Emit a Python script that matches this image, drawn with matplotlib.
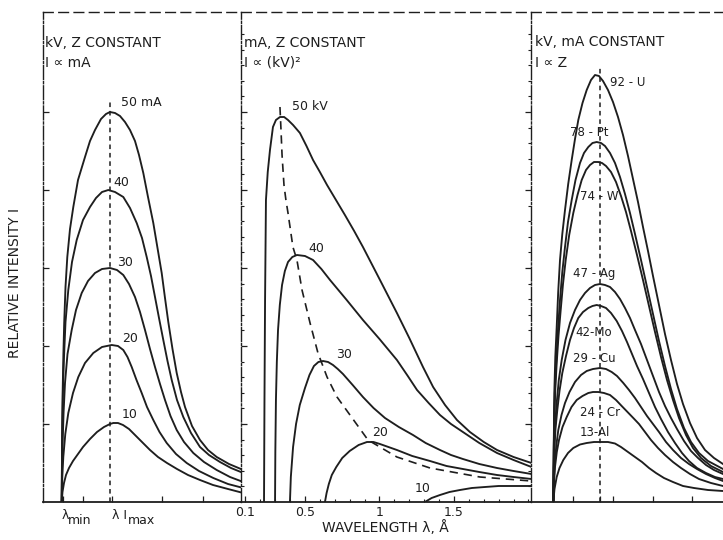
import matplotlib
matplotlib.use("Agg")
import matplotlib.pyplot as plt

# ---- panel 1 : kV, Z constant (arbitrary wavelength units) ----
p1_x_50 = [18.7, 19.2, 19.7, 20.4, 21.2, 22.5, 24.3, 27, 30.3, 35, 42, 47, 52, 58, 63, 67, 72, 77, 82, 87, 92, 96,
           100.3, 105, 110.3, 114.5, 118.7, 122, 125.3, 129.5, 133.7, 138, 142, 149, 157, 165, 173.7, 186, 200.3]
p1_y_50 = [0, 70, 112, 148, 179, 215, 245, 273, 295, 322, 345, 361, 372, 383, 388, 390, 389, 386, 380, 372, 361, 347,
           329, 305, 279, 254, 229, 204, 180, 153, 129, 110, 95, 76, 62, 52, 45, 38, 32]
p1_x_40 = [18.7, 19.0, 19.3, 20.0, 21, 22.5, 25.3, 29, 33.7, 40, 47, 53, 59, 65.3, 72, 80.3, 87, 93.7, 99, 103.7,
           108, 112, 116, 120.3, 124.5, 128.7, 134, 140.3, 148, 157, 166, 177, 188, 200.3]
p1_y_40 = [0, 50, 79, 115, 145, 180, 212, 240, 262, 282, 295, 304, 310, 312, 310, 305, 294, 279, 264, 245,
           226, 205, 184, 162, 141, 122, 102, 85, 69, 55, 47, 40, 34, 29]
p1_x_30 = [18.7, 19.1, 19.7, 20.6, 22, 24.5, 28.7, 33, 38.7, 45, 52, 59, 67, 74, 80.3, 86, 92, 97, 102, 107, 112,
           117, 122, 127.5, 133.7, 141, 150.3, 161, 173.7, 187, 200.3]
p1_y_30 = [0, 38, 62, 90, 119, 148, 172, 192, 209, 221, 229, 233, 234, 232, 227, 218, 205, 190, 172, 153, 135,
           118, 102, 86, 72, 60, 49, 40, 32, 25, 20]
p1_x_20 = [18.7, 19.3, 20.3, 22.3, 25.3, 30, 35.3, 42, 50.3, 59, 68.7, 75, 80.3, 84.5, 88.7, 93.5, 98.7, 104,
           110.3, 116.5, 123.7, 133, 143.7, 156, 170.3, 185, 200.3]
p1_y_20 = [0, 25, 45, 68, 89, 109, 125, 139, 149, 155, 157, 156, 152, 145, 135, 122, 109, 95,
           82, 70, 59, 48, 39, 31, 24, 18, 14]
p1_x_10 = [18.7, 19.5, 21, 23, 26, 30, 35, 40, 47, 54, 61, 67, 70.3, 75, 80, 86, 92, 99, 107, 115, 124, 134,
           145, 157, 170, 185, 200.3]
p1_y_10 = [0, 10, 19, 27, 34, 41, 48, 55, 63, 70, 75, 78, 79, 79, 77, 73, 67, 60, 52, 45, 39, 33,
           27, 22, 17, 13, 9]
p1_curve_labels = ["50 mA", "40", "30", "20", "10"]
p1_label_x = [78, 70, 74, 79, 79]
p1_label_y = [399, 319, 240, 164, 87]
p1_peak_x = 67

# ---- panel 2 : mA, Z constant (wavelength in Angstrom) ----
p2_x_50 = [0.225, 0.228, 0.232, 0.238, 0.25, 0.265, 0.285, 0.305, 0.332, 0.36, 0.386, 0.42, 0.466, 0.51, 0.554,
           0.6, 0.648, 0.7, 0.768, 0.83, 0.889, 1.0, 1.117, 1.2, 1.292, 1.36, 1.44, 1.52, 1.607, 1.7, 1.789,
           1.9, 2.02]
p2_y_50 = [0, 100, 202, 302, 330, 352, 375, 382, 385, 385, 382, 377, 369, 356, 342,
           330, 317, 304, 287, 271, 255, 223, 189, 164, 135, 115, 97, 82, 70, 60, 52,
           45, 39]
p2_x_40 = [0.299, 0.301, 0.305, 0.311, 0.319, 0.331, 0.346, 0.365, 0.386, 0.415, 0.446, 0.5, 0.554, 0.61, 0.668,
           0.78, 0.889, 1.0, 1.117, 1.19, 1.252, 1.33, 1.406, 1.48, 1.56, 1.67, 1.789, 1.9, 2.02]
p2_y_40 = [0, 50, 102, 140, 172, 197, 217, 231, 240, 245, 247, 246, 242, 233, 222,
           202, 182, 163, 142, 126, 112, 99, 87, 78, 70, 59, 49, 42, 35]
p2_x_30 = [0.399, 0.405, 0.42, 0.44, 0.465, 0.5, 0.53, 0.56, 0.59, 0.621, 0.655, 0.688, 0.72, 0.755, 0.82, 0.889,
           0.96, 1.037, 1.13, 1.225, 1.31, 1.406, 1.48, 1.56, 1.67, 1.789, 1.9, 2.02]
p2_y_30 = [0, 25, 55, 78, 97, 114, 127, 136, 140, 141, 140, 137, 133, 128, 117, 105,
           94, 84, 75, 67, 59, 52, 47, 43, 38, 34, 31, 28]
p2_x_20 = [0.634, 0.645, 0.66, 0.68, 0.71, 0.75, 0.8, 0.86, 0.916, 0.96, 1.003, 1.06, 1.117, 1.22, 1.339, 1.45,
           1.56, 1.67, 1.789, 1.9, 2.02]
p2_y_20 = [0, 9, 18, 27, 35, 44, 51, 57, 60, 60, 58, 55, 52, 46, 41, 36,
           33, 30, 27, 25, 23]
p2_x_10 = [1.305, 1.35, 1.406, 1.47, 1.54, 1.62, 1.708, 1.8, 1.9, 2.02]
p2_y_10 = [0, 4, 7, 10, 12, 14, 15, 16, 16, 16]
p2_peak_x = [0.332, 0.339, 0.346, 0.359, 0.372, 0.386, 0.419, 0.446, 0.48, 0.534, 0.587, 0.648, 0.715, 0.802,
             0.923, 1.117, 1.339, 1.674, 2.02]
p2_peak_y = [395, 372, 347, 317, 302, 289, 255, 242, 212, 179, 149, 125, 105, 87,
             62, 45, 34, 25, 21]
p2_curve_labels = ["50 kV", "40", "30", "20", "10"]
p2_label_x = [0.413, 0.52, 0.708, 0.95, 1.238]
p2_label_y = [395, 254, 147, 69, 14]
p2_ticks = [0.1, 0.5, 1, 1.5]
p2_ticklabels = ["0.1", "0.5", "1", "1.5"]

# ---- panel 3 : kV, mA constant (arbitrary wavelength units) ----
p3_x_U = [22.3, 22.8, 23.3, 24.3, 25.7, 27.2, 29, 31.3, 34, 37.2, 40.7, 44, 47.3, 51.5, 55.7, 60, 64, 68, 72, 77,
          82, 87, 92, 97, 102, 107, 112, 117, 122, 128, 134, 140, 146, 152, 159, 166, 174, 183, 192]
p3_y_U = [0, 60, 109, 145, 175, 210, 242, 268, 292, 318, 342, 363, 382, 399, 412, 422, 427, 426, 421, 412,
          400, 385, 367, 346, 323, 300, 275, 251, 226, 197, 168, 142, 118, 98, 79, 64, 52, 44, 38]
p3_x_Pt = [22.3, 22.8, 23.3, 24.3, 25.7, 27.2, 29, 31.3, 34, 37, 40.7, 44.5, 49, 53, 57.3, 61.5, 65.7, 70, 74, 79,
           84, 89, 94, 99, 104, 110, 116, 122, 128, 134, 140, 146, 153, 160, 168, 177, 192]
p3_y_Pt = [0, 55, 92, 122, 149, 176, 202, 230, 255, 280, 302, 322, 339, 349, 355, 359, 360, 359, 356, 349,
           339, 325, 308, 289, 268, 242, 215, 188, 161, 136, 113, 93, 74, 60, 49, 41, 33]
p3_x_W = [22.3, 22.8, 23.3, 24.3, 25.7, 27.5, 29.7, 32, 34.7, 38.2, 42.3, 46.5, 50.7, 55, 59, 63, 67.3, 71, 75, 80,
          85, 90, 95, 100, 106, 112, 118, 124, 130, 136, 142, 148, 155, 162, 170, 180, 192]
p3_y_W = [0, 52, 85, 113, 139, 166, 192, 218, 242, 267, 289, 307, 322, 332, 337, 340, 340, 339, 336, 330,
          320, 306, 290, 271, 247, 222, 196, 170, 145, 122, 102, 84, 67, 54, 44, 36, 30]
p3_x_Ag = [22.3, 22.8, 23.3, 24.3, 25.7, 27.8, 30.7, 34.5, 39, 44, 49, 54, 59, 64, 69, 74, 79, 84, 89, 94, 99,
           104, 110, 116, 122, 128, 134, 140, 146, 153, 160, 167, 175, 183, 192]
p3_y_Ag = [0, 35, 59, 80, 99, 122, 142, 162, 179, 192, 202, 209, 214, 217, 218, 217, 215, 210, 203, 194, 184,
           172, 158, 142, 126, 110, 96, 84, 73, 61, 51, 44, 37, 32, 28]
p3_x_Mo = [22.3, 22.8, 23.3, 24.5, 26.3, 28.5, 31.3, 35, 39, 43, 47.3, 52, 57.3, 61.5, 65.7, 70, 75, 80, 85.7,
           91, 96, 101, 106, 112, 118, 124, 130, 137, 144, 151, 158, 166, 175, 184, 192]
p3_y_Mo = [0, 32, 52, 73, 92, 111, 129, 146, 162, 174, 184, 190, 194, 196, 197, 196, 194, 189, 181,
           171, 160, 148, 136, 123, 109, 95, 83, 70, 59, 49, 41, 34, 29, 25, 23]
p3_x_Cu = [22.3, 23, 24, 25.5, 27.3, 30.5, 34, 38.5, 44, 50, 55.7, 62, 69, 75, 80.7, 86, 92.3, 98, 104, 110, 116,
           122, 128, 135, 142, 150, 158, 166, 175, 184, 192]
p3_y_Cu = [0, 25, 42, 58, 72, 87, 99, 110, 120, 127, 131, 133, 134, 133, 130, 126, 119, 112, 104, 95, 86,
           78, 70, 60, 52, 44, 38, 33, 28, 24, 21]
p3_x_Cr = [22.3, 23, 24, 25.8, 28, 31.5, 35.7, 40.5, 45.7, 51.5, 57.3, 62, 67.3, 73, 79, 85, 90.7, 96.5, 102.3,
           108, 114, 120, 127, 134, 142, 150, 159, 168, 180, 192]
p3_y_Cr = [0, 20, 35, 50, 62, 75, 85, 95, 102, 106, 109, 110, 110, 109, 107, 102, 96, 90, 84,
           78, 70, 62, 54, 47, 40, 34, 28, 23, 19, 16]
p3_x_Al = [22.3, 23.5, 25.7, 28.5, 32.3, 37, 42.3, 49, 55.7, 63, 70.7, 77, 84, 90, 97, 104, 111, 118, 125, 133,
           142, 152, 163, 177, 192]
p3_y_Al = [0, 13, 25, 34, 42, 49, 54, 57.5, 59, 60, 60, 60, 58.5, 55, 50, 45, 40, 34, 29, 24,
           20, 16, 14, 12, 11]
p3_curve_labels = ["92 - U", "78 - Pt", "74 - W", "47 - Ag", "42-Mo", "29 - Cu", "24 - Cr", "13-Al"]
p3_label_x = [79, 39, 49, 42, 44, 42, 49, 49]
p3_label_y = [420, 370, 305, 229, 170, 144, 90, 70]
p3_peak_x = 69

INK = "#1e1e1e"
LW = 1.35
FS = 9
FS_TITLE = 10
FS_AXIS = 10

fig = plt.figure(figsize=(7.23, 5.40), dpi=100)
W, H = 723.0, 540.0
def box(l, r):
    return [l / W, 38 / H, (r - l) / W, 490 / H]

ax1 = fig.add_axes(box(43, 241))
ax2 = fig.add_axes(box(241, 531))
ax3 = fig.add_axes(box(531, 723))

for ax in (ax1, ax2, ax3):
    ax.set_ylim(0, 490)
    ax.patch.set_alpha(0)
    for s in ax.spines.values():
        s.set_color(INK)
        s.set_linewidth(1.0)
    ax.spines["top"].set_linestyle((0, (7, 4)))
    ax.spines["bottom"].set_linewidth(1.3)
    ax.set_yticks([])
    ax.tick_params(direction="in", colors=INK, length=4, width=0.9,
                   labelsize=FS, pad=3)

ax1.set_xlim(0, 198)
ax2.set_xlim(0.0705, 2.017)
ax3.set_xlim(0, 192)
ax1.spines["right"].set_visible(False)
ax3.spines["left"].set_visible(False)
ax3.spines["right"].set_visible(False)
for sp in (ax1.spines["left"], ax2.spines["left"], ax2.spines["right"]):
    sp.set_linestyle((0, (10, 1.5, 1.5, 1.5)))

# panel 1
for xs, ys in [(p1_x_50, p1_y_50), (p1_x_40, p1_y_40), (p1_x_30, p1_y_30),
               (p1_x_20, p1_y_20), (p1_x_10, p1_y_10)]:
    ax1.plot(xs, ys, color=INK, lw=LW, solid_joinstyle="round")
ax1.plot([p1_peak_x, p1_peak_x], [0, 400], color=INK, lw=1.1, ls=(0, (3, 2.5)))
for t, x, y in zip(p1_curve_labels, p1_label_x, p1_label_y):
    ax1.text(x, y, t, fontsize=FS, color=INK, va="center", ha="left")
ax1.text(2, 459, "kV, Z CONSTANT", fontsize=FS_TITLE, color=INK, va="center")
ax1.text(2, 439, "I \u221d mA", fontsize=FS_TITLE, color=INK, va="center")
ax1.set_xticks([20, 40, 69, 119, 160])
ax1.set_xticklabels([])
ax1.set_yticks([78, 156, 234, 312, 390])
ax1.set_yticklabels([])
ax1.annotate("\u03bb", xy=(19, 0), xycoords=("data", "axes fraction"),
             xytext=(0, -10), textcoords="offset points", fontsize=FS,
             color=INK, ha="left", va="center")
ax1.annotate("min", xy=(25, 0), xycoords=("data", "axes fraction"),
             xytext=(0, -13), textcoords="offset points", fontsize=FS,
             color=INK, ha="left", va="center")
ax1.annotate("\u03bb I", xy=(69, 0), xycoords=("data", "axes fraction"),
             xytext=(0, -10), textcoords="offset points", fontsize=FS,
             color=INK, ha="left", va="center")
ax1.annotate("max", xy=(85, 0), xycoords=("data", "axes fraction"),
             xytext=(0, -13), textcoords="offset points", fontsize=FS,
             color=INK, ha="left", va="center")

# panel 2
for xs, ys in [(p2_x_50, p2_y_50), (p2_x_40, p2_y_40), (p2_x_30, p2_y_30),
               (p2_x_20, p2_y_20), (p2_x_10, p2_y_10)]:
    ax2.plot(xs, ys, color=INK, lw=LW, solid_joinstyle="round")
ax2.plot(p2_peak_x, p2_peak_y, color=INK, lw=1.2, ls=(0, (5, 3.5)))
for t, x, y in zip(p2_curve_labels, p2_label_x, p2_label_y):
    ax2.text(x, y, t, fontsize=FS, color=INK, va="center", ha="left")
ax2.text(0.09, 459, "mA, Z CONSTANT", fontsize=FS_TITLE, color=INK, va="center")
ax2.text(0.09, 439, "I \u221d (kV)\u00b2", fontsize=FS_TITLE, color=INK, va="center")
ax2.set_xticks(p2_ticks)
ax2.set_xticklabels(p2_ticklabels)
ax2.set_xticks([0.1 * k for k in range(1, 21)], minor=True)
ax2.set_yticks([78, 156, 234, 312, 390])
ax2.set_yticks([15.6 * k for k in range(1, 31)], minor=True)
ax2.set_yticklabels([])
ax2.tick_params(which="minor", direction="in", length=2.5, width=0.8, colors=INK,
                right=True)
ax2.tick_params(axis="y", which="major", right=True, length=4)

# panel 3
for xs, ys in [(p3_x_U, p3_y_U), (p3_x_Pt, p3_y_Pt), (p3_x_W, p3_y_W),
               (p3_x_Ag, p3_y_Ag), (p3_x_Mo, p3_y_Mo), (p3_x_Cu, p3_y_Cu),
               (p3_x_Cr, p3_y_Cr), (p3_x_Al, p3_y_Al)]:
    ax3.plot(xs, ys, color=INK, lw=LW, solid_joinstyle="round")
ax3.plot([p3_peak_x, p3_peak_x], [0, 434], color=INK, lw=1.1, ls=(0, (3, 2.5)))
for t, x, y in zip(p3_curve_labels, p3_label_x, p3_label_y):
    ax3.text(x, y, t, fontsize=8.5, color=INK, va="center", ha="left")
ax3.text(4, 460, "kV, mA CONSTANT", fontsize=FS_TITLE, color=INK, va="center")
ax3.text(4, 439, "I \u221d Z", fontsize=FS_TITLE, color=INK, va="center")
ax3.set_xticks([22, 42, 69, 82, 122, 161])
ax3.set_xticklabels([])

fig.text(15 / W, 1 - 283 / H, "RELATIVE INTENSITY I", rotation=90,
         fontsize=FS_AXIS, color=INK, ha="center", va="center")
fig.text(385 / W, 1 - 528 / H, "WAVELENGTH \u03bb, \u00c5", fontsize=FS_AXIS,
         color=INK, ha="center", va="center")

fig.savefig("out.png", dpi=100, facecolor="white")
